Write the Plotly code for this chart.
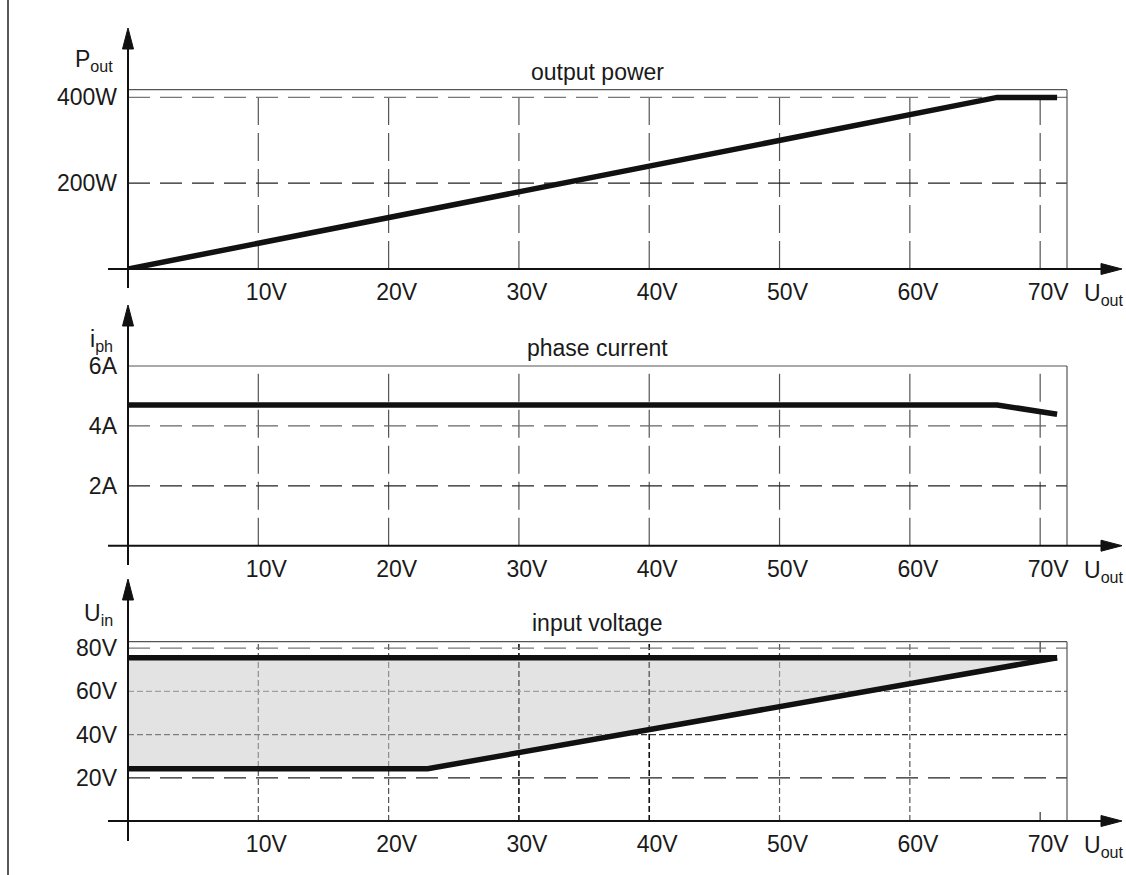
import plotly.graph_objects as go

# ---------------- data ----------------
x_ticks = [10, 20, 30, 40, 50, 60, 70]
x_ticktext = ["10V", "20V", "30V", "40V", "50V", "60V", "70V"]

p_ticks = [200, 400]
p_ticktext = ["200W", "400W"]
i_ticks = [2, 4, 6]
i_ticktext = ["2A", "4A", "6A"]
u_ticks = [20, 40, 60, 80]
u_ticktext = ["20V", "40V", "60V", "80V"]

uout_power = [0, 66.7, 71.3]
pout = [0, 400, 400]

uout_current = [0, 66.7, 71.3]
iph = [4.70, 4.70, 4.39]

uout_uin_low = [0, 23.0, 71.3]
uin_low = [24.2, 24.2, 75.6]
uout_uin_high = [0, 71.3]
uin_high = [75.6, 75.6]

W, H = 1126, 875
FONT = "Liberation Sans, Arial, sans-serif"
TXT = "#1a1a1a"


def px(v):
    return v / W


def py(v):
    return 1 - v / H


fig = go.Figure()

# panel geometry (pixels)
X0, X1 = 128, 1067
panels = [
    dict(ax="", top=89.7, base=269.0, rng=[0, 418], tip=28, bottom=288),
    dict(ax="2", top=366.0, base=545.7, rng=[0, 6], tip=305, bottom=565),
    dict(ax="3", top=641.7, base=821.0, rng=[0, 83], tip=579, bottom=841),
]

ytick_sets = [(p_ticks, p_ticktext), (i_ticks, i_ticktext), (u_ticks, u_ticktext)]

for k, pnl in enumerate(panels):
    xa = "xaxis" + pnl["ax"]
    ya = "yaxis" + pnl["ax"]
    fig.update_layout({
        xa: dict(domain=[px(X0), px(X1)], range=[0, 72.06], showgrid=False,
                 zeroline=False, showline=False, tickvals=x_ticks, ticktext=x_ticktext,
                 ticks="", ticklabelstandoff=7, ticklabelshift=8, automargin=False,
                 tickfont=dict(family=FONT, size=23, color=TXT),
                 anchor="y" + pnl["ax"], fixedrange=True),
        ya: dict(domain=[py(pnl["base"]), py(pnl["top"])], range=pnl["rng"], showgrid=False,
                 zeroline=False, showline=False, tickvals=ytick_sets[k][0],
                 ticktext=ytick_sets[k][1], ticks="", ticklabelstandoff=10, automargin=False,
                 tickfont=dict(family=FONT, size=23, color=TXT),
                 anchor="x" + pnl["ax"], fixedrange=True),
    })

# ---------------- gridlines ----------------
def vgrid(ax, v, color, dash, width=1.2, y0=0, y1=1):
    fig.add_shape(type="line", xref="x" + ax, yref="y" + ax + " domain",
                  x0=v, x1=v, y0=y0, y1=y1, line=dict(color=color, width=width, dash=dash),
                  layer="below")


def hgrid(ax, v, color, dash, width=1.2):
    fig.add_shape(type="line", xref="x" + ax + " domain", yref="y" + ax,
                  x0=0, x1=1, y0=v, y1=v, line=dict(color=color, width=width, dash=dash),
                  layer="below")


LONG = "22px,10px"
VLONG = "28px,8px"
SHORT = "6px,3px"

# panel 1
for v in x_ticks:
    vgrid("", v, "#555555", VLONG)
hgrid("", p_ticks[1], "#777777", LONG, 1.4)
hgrid("", p_ticks[0], "#222222", LONG, 1.2)
# panel 2
for v in x_ticks:
    vgrid("2", v, "#555555", VLONG)
hgrid("2", i_ticks[1], "#666666", LONG, 1.3)
hgrid("2", i_ticks[0], "#222222", LONG, 1.2)
# panel 3
for v in x_ticks[:-1]:
    dark = v in (30, 40)
    vgrid("3", v, "#111111" if dark else "#555555", SHORT, 1.6 if dark else 1.2)
vgrid("3", x_ticks[-1], "#333333", "solid", 1.2, 0.94, 1.0)
vgrid("3", x_ticks[-1], "#333333", "solid", 1.2, 0.0, 0.05)
hgrid("3", u_ticks[3], "#777777", LONG, 1.3)
hgrid("3", u_ticks[2], "#777777", SHORT, 1.2)
hgrid("3", u_ticks[1], "#333333", SHORT, 1.2)
hgrid("3", u_ticks[0], "#222222", LONG, 1.2)

# ---------------- data traces ----------------
LW = 5.5
fig.add_trace(go.Scatter(x=uout_power, y=pout, mode="lines",
                         line=dict(color="#111111", width=LW), xaxis="x", yaxis="y",
                         showlegend=False, hoverinfo="skip"))
fig.add_trace(go.Scatter(x=uout_current, y=iph, mode="lines",
                         line=dict(color="#111111", width=LW), xaxis="x2", yaxis="y2",
                         showlegend=False, hoverinfo="skip"))
# fill region between low and high input voltage
fig.add_trace(go.Scatter(x=uout_uin_low + uout_uin_high[::-1], y=uin_low + uin_high[::-1],
                         mode="lines", fill="toself", fillcolor="rgba(200,200,200,0.5)",
                         line=dict(width=0), xaxis="x3", yaxis="y3",
                         showlegend=False, hoverinfo="skip"))
fig.add_trace(go.Scatter(x=uout_uin_low, y=uin_low, mode="lines",
                         line=dict(color="#111111", width=LW), xaxis="x3", yaxis="y3",
                         showlegend=False, hoverinfo="skip"))
fig.add_trace(go.Scatter(x=uout_uin_high, y=uin_high, mode="lines",
                         line=dict(color="#111111", width=LW), xaxis="x3", yaxis="y3",
                         showlegend=False, hoverinfo="skip"))

# ---------------- frames / axes with arrows ----------------
for pnl in panels:
    t, b = pnl["top"], pnl["base"]
    # box top & right (thin)
    fig.add_shape(type="line", xref="paper", yref="paper", x0=px(X0), x1=px(X1),
                  y0=py(t), y1=py(t), line=dict(color="#555555", width=1.2))
    fig.add_shape(type="line", xref="paper", yref="paper", x0=px(X1), x1=px(X1),
                  y0=py(t), y1=py(b), line=dict(color="#555555", width=1.2))
    # horizontal axis
    fig.add_shape(type="line", xref="paper", yref="paper", x0=px(108), x1=px(1104),
                  y0=py(b), y1=py(b), line=dict(color="#111111", width=2))
    fig.add_shape(type="path", xref="paper", yref="paper",
                  path=f"M {px(1101)} {py(b-5.5)} L {px(1122)} {py(b)} L {px(1101)} {py(b+5.5)} Z",
                  fillcolor="#111111", line=dict(color="#111111", width=1))
    # vertical axis
    fig.add_shape(type="line", xref="paper", yref="paper", x0=px(X0), x1=px(X0),
                  y0=py(pnl["tip"] + 18), y1=py(pnl["bottom"]), line=dict(color="#111111", width=2))
    fig.add_shape(type="path", xref="paper", yref="paper",
                  path=f"M {px(X0-5.5)} {py(pnl['tip']+21)} L {px(X0)} {py(pnl['tip'])} L {px(X0+5.5)} {py(pnl['tip']+21)} Z",
                  fillcolor="#111111", line=dict(color="#111111", width=1))

# page border line on the left
fig.add_shape(type="line", xref="paper", yref="paper", x0=px(8), x1=px(8), y0=0, y1=1,
              line=dict(color="#222222", width=1.5))

# ---------------- text ----------------
def label(text, x, y, size=23, xanchor="center"):
    fig.add_annotation(text=text, x=px(x), y=py(y), xref="paper", yref="paper",
                       showarrow=False, xanchor=xanchor, yanchor="middle",
                       font=dict(family=FONT, size=size, color=TXT))


label("output power", 597, 72, 23)
label("phase current", 597, 348, 23)
label("input voltage", 597, 623, 23)

label("P<sub>out</sub>", 115, 60, 23, "right")
label("i<sub>ph</sub>", 115, 340, 23, "right")
label("U<sub>in</sub>", 115, 614, 23, "right")

for b in (294, 571, 846):
    label("U<sub>out</sub>", 1082, b, 23, "left")

fig.update_layout(width=W, height=H,
                  margin=dict(l=0, r=0, t=0, b=0, pad=0, autoexpand=False),
                  paper_bgcolor="white", plot_bgcolor="white", showlegend=False)

fig.write_html("out.html", config={"displayModeBar": False},
               post_script="document.body.style.margin='0';document.body.style.overflow='hidden';")
